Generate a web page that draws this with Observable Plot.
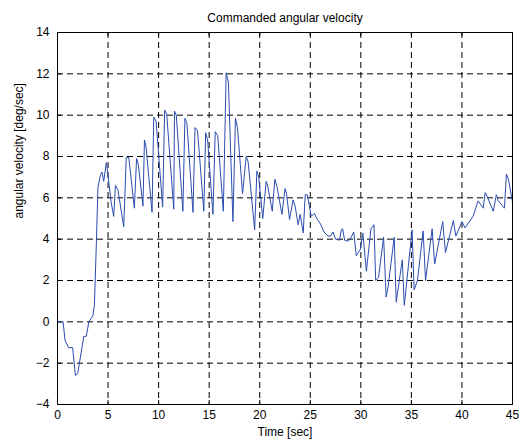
<!DOCTYPE html>
<html>
<head>
<meta charset="utf-8">
<script src="https://cdn.jsdelivr.net/npm/d3@7"></script>
<script src="https://cdn.jsdelivr.net/npm/@observablehq/plot@0.6"></script>
<style>
  html, body { margin: 0; padding: 0; background: #fff; }
  svg { display: block; }
</style>
</head>
<body>
<div id="chart"></div>
<script>
const titleText = "Commanded angular velocity";
const xLabel = "Time [sec]";
const yLabel = "angular velocity [deg/sec]";
const xTicks = [0, 5, 10, 15, 20, 25, 30, 35, 40, 45];
const yTicks = [-4, -2, 0, 2, 4, 6, 8, 10, 12, 14];

const time = [0,0.55,0.75,1.1,1.5,1.77,2.0,2.6,2.85,3.1,3.5,3.65,3.85,4.0,4.25,4.4,4.57,4.83,4.95,5.3,5.56,5.73,5.97,6.55,6.8,7.05,7.6,7.82,8.0,8.45,8.6,8.75,9.35,9.52,9.75,10.4,10.6,10.8,11.5,11.57,11.75,12.4,12.6,12.8,13.4,13.6,13.85,14.47,14.65,14.85,15.37,15.6,15.85,16.4,16.68,16.9,17.35,17.6,17.8,18.3,18.66,18.85,19.5,19.72,19.9,20.3,20.64,20.8,21.24,21.5,21.7,22.2,22.5,22.65,22.95,23.3,23.5,23.8,24.0,24.3,24.5,24.7,25.1,25.4,25.7,26.0,26.35,26.75,27.0,27.25,27.5,27.9,28.07,28.2,28.4,28.73,29.05,29.3,29.55,29.95,30.2,30.55,31.0,31.3,31.47,31.75,32.25,32.5,32.7,33.3,33.5,34.1,34.3,35.07,35.27,35.6,36.16,36.4,37.05,37.3,38.1,38.37,39.15,39.4,40.0,40.3,41.1,41.6,42.1,42.3,42.55,43.1,43.4,43.6,44.2,44.4,44.6,45.0];
const velocity = [0,0,-0.9,-1.25,-1.25,-2.6,-2.5,-0.7,-0.7,0,0.3,0.8,3.9,6.5,7.1,7.25,6.8,7.7,7.3,5.8,5.1,6.6,6.4,4.6,7.95,7.95,5.5,7.9,7.6,5.6,8.8,8.5,5.3,9.9,9.7,5.55,10.25,10.05,5.45,10.2,10.0,5.35,9.85,9.6,5.3,9.4,9.25,5.35,9.15,8.8,5.2,9.2,9.0,5.35,12.05,11.6,4.85,9.85,9.4,6.2,8.0,7.75,4.45,7.3,7.0,5.0,6.8,6.55,5.35,6.9,6.55,5.2,6.45,6.2,4.95,5.9,5.6,4.7,5.2,4.3,6.15,6.15,5.1,5.25,4.95,4.75,4.35,4.15,4.15,4.35,4.0,3.95,4.45,4.5,3.95,3.9,4.1,4.35,3.2,3.5,4.3,2.45,4.5,4.7,2.0,2.15,4.1,1.2,1.7,4.1,0.95,3.0,0.8,4.45,1.55,2.0,4.4,2.0,4.5,2.8,4.85,3.35,4.9,4.15,4.85,4.55,5.1,5.85,5.5,6.25,6.0,5.35,6.15,5.85,5.5,7.15,6.9,5.8];

const data = time.map((t, i) => ({t, v: velocity[i]}));
const innerX = xTicks.slice(1, -1);
const innerY = yTicks.slice(1, -1);

const W = 524, H = 445;
const mL = 57, mR = 12, mT = 32, mB = 41;
const fw = W - mL - mR, fh = H - mT - mB;
const font = "Liberation Sans, Arial, Helvetica, sans-serif";

const chart = Plot.plot({
  width: W,
  height: H,
  marginLeft: mL, marginRight: mR, marginTop: mT, marginBottom: mB,
  style: {fontFamily: font, fontSize: "11px", color: "#000", background: "#fff"},
  x: {domain: [0, 45]},
  y: {domain: [-4, 14]},
  marks: [
    Plot.ruleX(innerX, {stroke: "#000", strokeWidth: 1, strokeDasharray: "6,4"}),
    Plot.ruleY(innerY, {stroke: "#000", strokeWidth: 1, strokeDasharray: "6,4"}),
    Plot.tickX(xTicks, {x: d => d, insetTop: fh - 4, stroke: "#000"}),
    Plot.tickX(xTicks, {x: d => d, insetBottom: fh - 4, stroke: "#000"}),
    Plot.tickY(yTicks, {y: d => d, insetRight: fw - 4, stroke: "#000"}),
    Plot.tickY(yTicks, {y: d => d, insetLeft: fw - 4, stroke: "#000"}),
    Plot.axisX(xTicks, {tickSize: 0, tickPadding: 6, label: null, fontSize: 12}),
    Plot.axisY(yTicks, {tickSize: 0, tickPadding: 8, label: null, fontSize: 12}),
    Plot.line(data, {x: "t", y: "v", stroke: "#2a4cb0", strokeWidth: 1}),
    Plot.frame({stroke: "#000", strokeWidth: 1}),
    Plot.text([titleText], {frameAnchor: "top", dy: -11, lineAnchor: "bottom", fontSize: 12, fill: "#000"}),
    Plot.text([xLabel], {frameAnchor: "bottom", dy: 28, lineAnchor: "middle", fontSize: 12, fill: "#000"}),
    Plot.text([yLabel], {frameAnchor: "left", dx: -38, rotate: -90, lineAnchor: "middle", fontSize: 12, fill: "#000"})
  ]
});
document.getElementById("chart").appendChild(chart);
</script>
</body>
</html>
